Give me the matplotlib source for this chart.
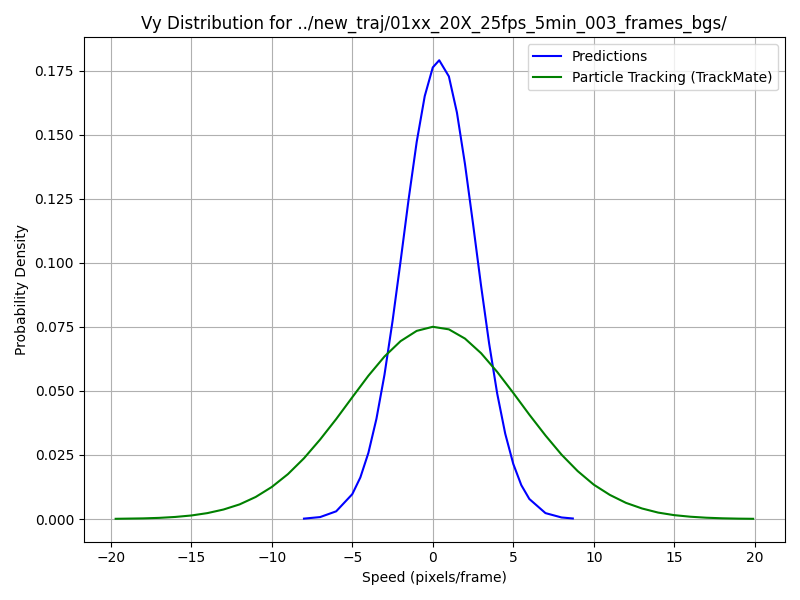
import matplotlib
matplotlib.use('Agg')
import matplotlib.pyplot as plt

# values
pred_x = [-8, -7, -6, -5, -4.5, -4, -3.5, -3, -2.5, -2, -1.5, -1, -0.5, 0, 0.4,
          1, 1.5, 2, 2.5, 3, 3.5, 4, 4.5, 5, 5.5, 6, 7, 8, 8.7]
pred_y = [0.00015, 0.00075, 0.0030, 0.0097, 0.0162, 0.0258, 0.0391, 0.0563, 0.0772,
          0.1006, 0.1248, 0.1471, 0.1650, 0.1762, 0.179, 0.1727, 0.1586, 0.1385,
          0.1152, 0.0910, 0.0685, 0.0490, 0.0333, 0.0215, 0.0132, 0.0078, 0.0023,
          0.0006, 0.0002]

track_x = [-19.7, -18, -17, -16, -15, -14, -13, -12, -11, -10, -9, -8, -7, -6, -5,
           -4, -3, -2, -1, 0, 1, 2, 3, 4, 5, 6, 7, 8, 9, 10, 11, 12, 13, 14, 15,
           16, 17, 18, 19, 19.9]
track_y = [0.00008, 0.00024, 0.00044, 0.0008, 0.00137, 0.0023, 0.0037, 0.0057,
           0.0086, 0.0125, 0.0175, 0.0237, 0.031, 0.039, 0.0475, 0.0559, 0.0634,
           0.0694, 0.0734, 0.075, 0.0740, 0.0704, 0.0647, 0.0574, 0.0492, 0.0407,
           0.0326, 0.0251, 0.0187, 0.0134, 0.0094, 0.0063, 0.0041, 0.0025, 0.0015,
           0.00089, 0.0005, 0.00027, 0.00014, 0.00008]

fig = plt.figure(figsize=(8, 6), dpi=100)
plt.plot(pred_x, pred_y, color='blue', label='Predictions')
plt.plot(track_x, track_y, color='green', label='Particle Tracking (TrackMate)')
plt.title('Vy Distribution for ../new_traj/01xx_20X_25fps_5min_003_frames_bgs/')
plt.xlabel('Speed (pixels/frame)')
plt.ylabel('Probability Density')
plt.legend(loc='upper right')
plt.grid(True)
plt.tight_layout()
plt.savefig('out.png')
plt.close(fig)
